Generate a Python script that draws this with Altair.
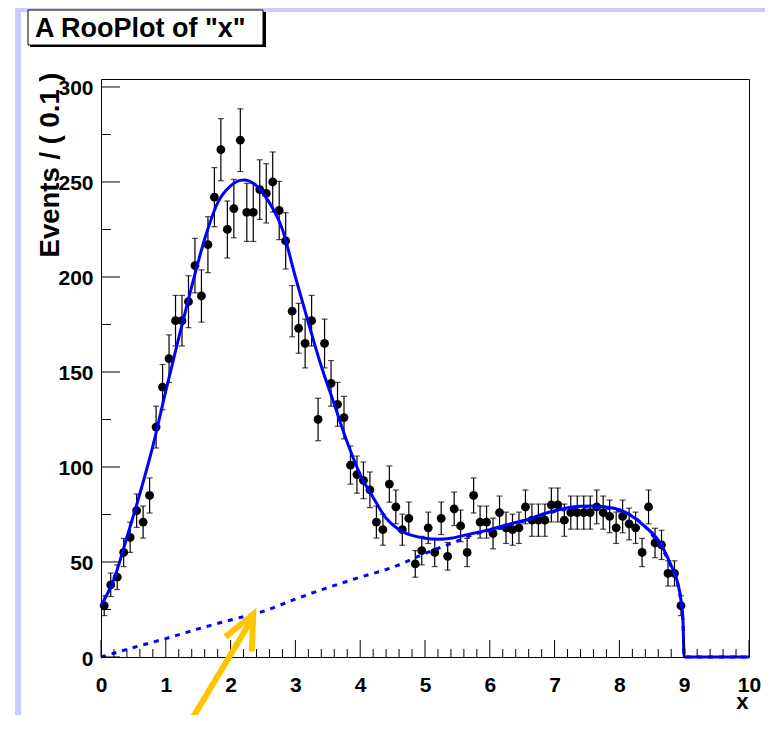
import altair as alt
import pandas as pd
import numpy as np

# ---------------- data ----------------
bin_centers = [round(0.05 + 0.1 * i, 2) for i in range(90)]
counts = [27, 38, 42, 55, 63, 77, 71, 85, 121, 142,
          157, 177, 177, 187, 206, 190, 217, 242, 267, 225,
          236, 272, 234, 234, 246, 244, 250, 235, 219, 182,
          173, 165, 177, 125, 165, 144, 133, 126, 101, 96,
          93, 88, 71, 67, 91, 79, 67, 73, 49, 56,
          68, 55, 73, 53, 78, 69, 55, 85, 71, 71,
          65, 76, 68, 67, 68, 79, 72, 72, 72, 80,
          80, 72, 76, 76, 76, 76, 79, 76, 74, 68,
          74, 70, 68, 55, 79, 60, 59, 44, 44, 27]

curve_x = [0, 0.2, 0.4, 0.6, 0.8, 1.0, 1.2, 1.4, 1.6, 1.8, 2.0, 2.2, 2.4, 2.6, 2.8,
           3.0, 3.2, 3.4, 3.6, 3.8, 4.0, 4.2, 4.4, 4.6, 4.8, 5.0, 5.2, 5.4, 5.6, 5.8,
           6.0, 6.2, 6.4, 6.6, 6.8, 7.0, 7.2, 7.4, 7.6, 7.8, 8.0, 8.2, 8.4, 8.6, 8.8,
           8.9, 8.95, 8.98, 9.0, 10.0]
curve_y = [27, 41, 63, 86, 111, 140, 168, 195, 220, 239, 248, 251, 248, 239, 225,
           200, 176, 153, 133, 113, 96, 84, 73, 67, 64, 62.5, 62, 62.5, 64, 65.5,
           67, 69, 70.8, 72.5, 75, 77, 78.5, 79.3, 79.5, 79, 77.5, 74, 68.5, 61.5, 48,
           39, 30, 20, 0, 0]

bkg_x = [0, 0.5, 1.0, 1.5, 2.0, 2.5, 3.0, 3.5, 4.0, 4.5, 5.0, 5.5, 5.8, 6.0, 6.5,
         7.0, 7.5, 8.0, 8.5, 8.8, 8.9, 8.95, 8.98, 9.0, 10.0]
bkg_y = [0, 5, 9.7, 14.8, 19.5, 24, 30.5, 36.5, 42, 47.2, 54.5, 61, 65, 66.5, 71.3,
         76.5, 79, 77, 64.5, 47.5, 38.5, 29.5, 19.5, 0, 0]

x_major = [0, 1, 2, 3, 4, 5, 6, 7, 8, 9, 10]
x_minor = [0.2, 0.4, 0.6, 0.8, 1.2, 1.4, 1.6, 1.8, 2.2, 2.4, 2.6, 2.8, 3.2, 3.4, 3.6, 3.8,
           4.2, 4.4, 4.6, 4.8, 5.2, 5.4, 5.6, 5.8, 6.2, 6.4, 6.6, 6.8, 7.2, 7.4, 7.6, 7.8,
           8.2, 8.4, 8.6, 8.8, 9.2, 9.4, 9.6, 9.8]
y_major = [0, 50, 100, 150, 200, 250, 300]
y_minor = [25, 75, 125, 175, 225, 275]

# annotation arrow (data coordinates)
arrow_shaft_x = [1.32, 2.33]
arrow_shaft_y = [-37.4, 20.0]
arrow_head_x = [1.92, 2.35, 2.327]
arrow_head_y = [10.6, 22.5, 3.0]

title_text = 'A RooPlot of "x"'
y_title = "Events / ( 0.1 )"
x_title = "x"

# ---------------- build ----------------
W, H = 648, 578
FONT = "Liberation Sans"
xs = alt.Scale(domain=[0, 10], nice=False, zero=False)
ys = alt.Scale(domain=[0, 304.2], nice=False, zero=False)

x_axis = alt.Axis(values=x_major, format="d", title=x_title, titleX=647, titleY=51,
                  titleAlign="right", titleBaseline="alphabetic", titleAngle=0,
                  titleFontSize=22, labelPadding=17, ticks=False, domain=False,
                  grid=False, labelFlush=False, labelOverlap=False)
y_axis = alt.Axis(values=y_major, title=y_title, titleX=-43, titleY=-7,
                  titleAlign="right", titleBaseline="alphabetic", titleAngle=-90,
                  titleFontSize=27.5, labelPadding=8, ticks=False, domain=False,
                  grid=False, labelOverlap=False, labelOffset=2)

X = lambda f: alt.X(f, scale=xs, axis=x_axis)
Y = lambda f: alt.Y(f, scale=ys, axis=y_axis)

pts = pd.DataFrame({"x": bin_centers, "n": counts})
pts["lo"] = pts["n"] - np.sqrt(pts["n"])
pts["hi"] = pts["n"] + np.sqrt(pts["n"])

one = pd.DataFrame({"a": [0]})

lav_left = alt.Chart(one).mark_rect(color="#ccccff").encode(
    x=alt.value(-86), x2=alt.value(-80), y=alt.value(-71), y2=alt.value(640))
lav_top = alt.Chart(one).mark_rect(color="#ccccff").encode(
    x=alt.value(-86), x2=alt.value(672), y=alt.value(-71), y2=alt.value(-67))

err = alt.Chart(pts).mark_rule(color="black", strokeWidth=1.2).encode(
    x=X("x:Q"), y=Y("lo:Q"), y2="hi:Q")
cap_lo = alt.Chart(pts).mark_tick(color="black", orient="horizontal", size=6,
                                  thickness=1.2).encode(x=X("x:Q"), y=Y("lo:Q"))
cap_hi = alt.Chart(pts).mark_tick(color="black", orient="horizontal", size=6,
                                  thickness=1.2).encode(x=X("x:Q"), y=Y("hi:Q"))
dots = alt.Chart(pts).mark_point(filled=True, shape="circle", size=78, color="black",
                                 opacity=1).encode(x=X("x:Q"), y=Y("n:Q"))

tot = alt.Chart(pd.DataFrame({"x": curve_x, "y": curve_y})).mark_line(
    color="#0000ff", strokeWidth=3, interpolate="monotone").encode(
    x=X("x:Q"), y=Y("y:Q"))
bkg = alt.Chart(pd.DataFrame({"x": bkg_x, "y": bkg_y})).mark_line(
    color="#0000ff", strokeWidth=3, strokeDash=[5, 6], interpolate="monotone").encode(
    x=X("x:Q"), y=Y("y:Q"))

xt_major = alt.Chart(pd.DataFrame({"v": x_major})).mark_rule(color="black").encode(
    x=X("v:Q"), y=alt.value(H), y2=alt.value(H - 17))
xt_minor = alt.Chart(pd.DataFrame({"v": x_minor})).mark_rule(color="black").encode(
    x=X("v:Q"), y=alt.value(H), y2=alt.value(H - 8))
yt_major = alt.Chart(pd.DataFrame({"v": y_major})).mark_rule(color="black").encode(
    y=Y("v:Q"), x=alt.value(0), x2=alt.value(19))
yt_minor = alt.Chart(pd.DataFrame({"v": y_minor})).mark_rule(color="black").encode(
    y=Y("v:Q"), x=alt.value(0), x2=alt.value(10))

shaft = alt.Chart(pd.DataFrame({"x": arrow_shaft_x, "y": arrow_shaft_y,
                                "o": list(range(len(arrow_shaft_x)))})).mark_line(
    color="#ffc400", strokeWidth=6, strokeCap="butt", clip=False).encode(
    x=X("x:Q"), y=Y("y:Q"), order="o:Q")
head = alt.Chart(pd.DataFrame({"x": arrow_head_x, "y": arrow_head_y,
                               "o": list(range(len(arrow_head_x)))})).mark_line(
    color="#ffc400", strokeWidth=6, strokeCap="butt", strokeJoin="miter",
    clip=False).encode(x=X("x:Q"), y=Y("y:Q"), order="o:Q")

title_shadow = alt.Chart(one).mark_rect(color="black").encode(
    x=alt.value(-71), x2=alt.value(165), y=alt.value(-67), y2=alt.value(-32))
title_box = alt.Chart(one).mark_rect(fill="white", stroke="black", strokeWidth=1).encode(
    x=alt.value(-73), x2=alt.value(162), y=alt.value(-69), y2=alt.value(-34))
title_lbl = alt.Chart(one).mark_text(text=title_text, font=FONT, fontWeight="bold",
                                     fontSize=27, align="left", baseline="alphabetic",
                                     color="black").encode(
    x=alt.value(-66), y=alt.value(-42.5))

chart = alt.layer(
    lav_left, lav_top, err, cap_lo, cap_hi, dots, tot, bkg,
    xt_major, xt_minor, yt_major, yt_minor, shaft, head,
    title_shadow, title_box, title_lbl
).properties(
    width=W, height=H,
    padding={"left": 93, "top": 71, "right": 16, "bottom": 58},
    autosize=alt.AutoSizeParams(type="none"),
).configure(background="white").configure_view(
    stroke="black", strokeWidth=1
).configure_axis(
    labelFont=FONT, labelFontWeight="bold", labelFontSize=21, labelColor="black",
    titleFont=FONT, titleFontWeight="bold", titleColor="black"
)

chart.save("out.html", embed_options={"renderer": "svg", "actions": False})
